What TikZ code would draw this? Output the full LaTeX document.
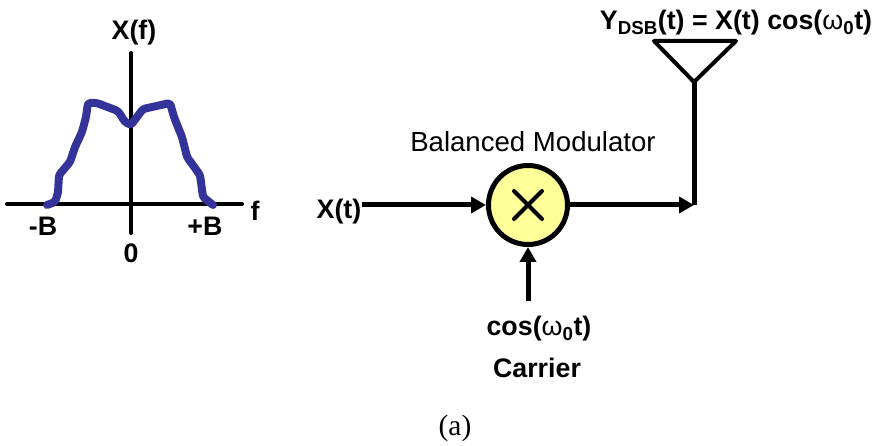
\documentclass[tikz,border=0pt]{standalone}
\usepackage{fontspec}
\setmainfont{Liberation Sans}
\newfontfamily\capfont{Liberation Serif}
\usetikzlibrary{arrows.meta}
\definecolor{specblue}{RGB}{51,51,153}
\definecolor{modyellow}{RGB}{255,255,153}
\newcommand{\wo}{{\mdseries ω}\textsubscript{0}}
\tikzset
 {> = {Triangle[length=15pt,width=16pt]},
  x = 1pt, y = -1pt,                    % picture is measured in pixels from the top
  main/.style = {line width=5pt},                   % thick lines for signal path
  axis/.style = {line width=4pt, line cap=round},
  spec/.style = {line width=8pt, color=specblue, line cap=round, line join=round, rounded corners=2.5pt},
  lbl/.style  = {font=\bfseries\fontsize{26.8}{30}\selectfont, inner sep=0pt},
  title/.style = {font=\fontsize{27.6}{31}\selectfont, inner sep=0pt}
 }

\begin{document}
\begin{tikzpicture}
    \useasboundingbox (0,0) rectangle (876,446);
    % spectrum
    \coordinate (f left) at (7,204);
    \coordinate (f right) at (242,204);
    \coordinate (x top) at (131,53);
    \coordinate (x bottom) at (131,233);
    \draw[axis] (f left) -- (f right);
    \draw[axis] (x top) -- (x bottom);
    \draw[spec] (47,205) -- (55,202) -- (58,193) -- (59,175) -- (70,162) -- (75,147)
        -- (82,132) -- (86,117) -- (88,103) -- (97,103) -- (118,111) -- (125,122)
        -- (131,125) -- (137,117) -- (143,109) -- (170,103) -- (174,117) -- (182,137)
        -- (187,157) -- (200,175) -- (203,197) -- (213,205);
    \node[lbl] (xf) at (134,33) {X(f)};
    \node[lbl] (f) at (255,211) {f};
    \node[lbl] (mb) at (43,226) {-B};
    \node[lbl] (pb) at (205,226) {+B};
    \node[lbl] (zero) at (131,253) {0};
    % modulator
    \node[circle, draw, main, fill=modyellow, minimum size=79pt, inner sep=0pt] (mod) at (528,205) {};
    \draw[line width=4pt, line cap=round] (514,191) -- (542,219) (542,191) -- (514,219);
    \node[title] (bm) at (533,142) {Balanced Modulator};
    \node[lbl] (xt) at (339,212) {X(t)};
    \node[lbl] (cos) at (539,329) {cos(\wo t)};
    \node[lbl] (car) at (537,368) {Carrier};
    \coordinate (carrier) at (528,301);
    \coordinate (join) at (694,205);
    \coordinate (tip) at (694,82);
    \coordinate (ant l) at (654,41);
    \coordinate (ant r) at (736,41);
    \draw[main,->] (xt.east |- mod) -- (mod);
    \draw[main,->] (carrier) -- (mod);
    \draw[main,->] (mod) -- (join);
    \draw[main] (join) -- (tip);
    \draw[line width=4pt, line join=round] (ant l) -- (ant r) -- (tip) -- cycle;
    \node[lbl] (yt) at (736,23) {Y\textsubscript{DSB}(t) = X(t) cos(\wo t)};
    \node[font=\capfont\fontsize{29.5}{32}\selectfont, inner sep=0pt] (cap) at (455,428) {(a)};
\end{tikzpicture}
\end{document}
